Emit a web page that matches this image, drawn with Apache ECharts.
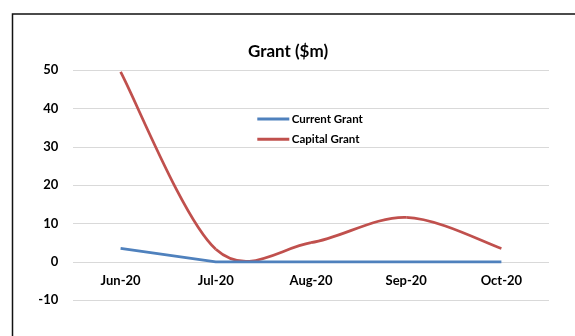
<!DOCTYPE html>
<html><head><meta charset="utf-8">
<script src="https://cdn.jsdelivr.net/npm/echarts@6/dist/echarts.min.js"></script>
<style>html,body{margin:0;padding:0;background:#fff}#c{width:575px;height:336px}</style>
</head><body><div id="c"></div>
<script>
var categories = ['Jun-20', 'Jul-20', 'Aug-20', 'Sep-20', 'Oct-20'];
var currentGrant = [3.5, 0, 0, 0, 0];
var capitalGrant = [49.5, 3.3, 5, 11.6, 3.5];
var yTicks = { min: -10, max: 50, interval: 10 };

var chart = echarts.init(document.getElementById('c'), null, { renderer: 'canvas' });
var font = 'Lato, "Open Sans", sans-serif';

// Excel-style smoothed line (Catmull-Rom, tension 1/6) drawn through the axes' own scales
function renderSmooth(params, api) {
  var i = params.dataIndex;
  var n = capitalGrant.length;
  if (i >= n - 1) return null;
  function P(k) {
    k = Math.max(0, Math.min(n - 1, k));
    return api.coord([k, capitalGrant[k]]);
  }
  var p0 = P(i - 1), p1 = P(i), p2 = P(i + 1), p3 = P(i + 2);
  var cp1x = p1[0] + (p2[0] - p0[0]) / 6, cp1y = p1[1] + (p2[1] - p0[1]) / 6;
  var cp2x = p2[0] - (p3[0] - p1[0]) / 6, cp2y = p2[1] - (p3[1] - p1[1]) / 6;
  return {
    type: 'bezierCurve',
    shape: { x1: p1[0], y1: p1[1], x2: p2[0], y2: p2[1], cpx1: cp1x, cpy1: cp1y, cpx2: cp2x, cpy2: cp2y },
    style: { fill: null, stroke: '#c0504d', lineWidth: 2.75, lineCap: 'butt' }
  };
}

chart.setOption({
  animation: false,
  backgroundColor: '#fff',
  graphic: [{
    type: 'rect', left: 10, top: 11.5, silent: true, z: 100,
    shape: { x: 0, y: 0, width: 700, height: 400 },
    style: { fill: 'none', stroke: '#111', lineWidth: 1.5 }
  }],
  title: {
    text: 'Grant ($m)', left: 288, top: 43, textAlign: 'center', padding: 0,
    textStyle: { fontFamily: font, fontWeight: 'bold', fontSize: 17, color: '#000' }
  },
  legend: {
    orient: 'vertical', left: 257.3, top: 113, padding: 0,
    itemWidth: 32, itemHeight: 3, itemGap: 8.3,
    icon: 'rect',
    textStyle: { fontFamily: font, fontWeight: 'bold', fontSize: 11.5, color: '#000', padding: [0, 0, 0, -2.5] },
    data: ['Current Grant', 'Capital Grant']
  },
  grid: { left: 73, right: 26, top: 70, bottom: 35.7 },
  xAxis: {
    type: 'category', data: categories, boundaryGap: true,
    offset: -38.38,
    axisLine: { show: false, onZero: false },
    axisTick: { show: false },
    axisLabel: { margin: 12, fontFamily: font, fontWeight: 'bold', fontSize: 13, color: '#000' }
  },
  yAxis: {
    type: 'value', min: yTicks.min, max: yTicks.max, interval: yTicks.interval,
    axisLine: { show: false }, axisTick: { show: false },
    axisLabel: { margin: 14.7, fontFamily: font, fontWeight: 'bold', fontSize: 13, color: '#000' },
    splitLine: { lineStyle: { color: '#d9d9d9', width: 1 } }
  },
  series: [
    { name: 'Current Grant', type: 'line', data: currentGrant, symbol: 'none',
      lineStyle: { width: 2.75, color: '#4f81bd' }, itemStyle: { color: '#4f81bd' } },
    { name: 'Capital Grant', type: 'custom', renderItem: renderSmooth,
      data: capitalGrant.map(function (v, k) { return [k, v]; }),
      encode: { x: 0, y: 1 },
      itemStyle: { color: '#c0504d' } }
  ]
});
</script></body></html>
